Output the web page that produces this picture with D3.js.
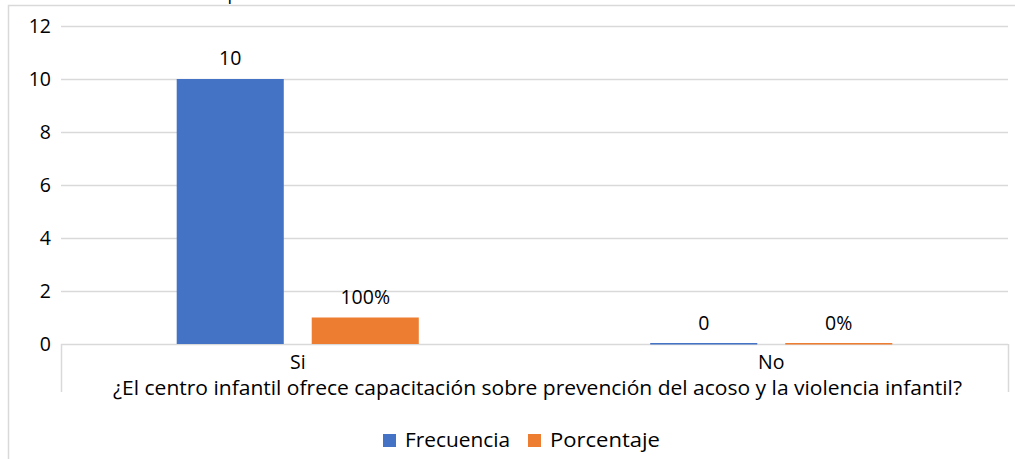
<!DOCTYPE html>
<html>
<head>
<meta charset="utf-8">
<script src="https://cdn.jsdelivr.net/npm/d3@7"></script>
<style>
  body { margin: 0; background: #fff; }
  svg text { font-family: "Open Sans", "Noto Sans", sans-serif; fill: #000; }
</style>
</head>
<body>
<div class="chart"></div>
<script>
// data
var categories = ['Si', 'No'];
var seriesNames = ['Frecuencia', 'Porcentaje'];
var frecuencia = [10, 0];
var porcentaje = [1, 0];          // plotted height (100% -> 1)
var porcentajeLabels = ['100%', '0%'];
var yTicks = [0, 2, 4, 6, 8, 10, 12];
var axisTitle = '¿El centro infantil ofrece capacitación sobre prevención del acoso y la violencia infantil?';
var colors = ['#4472C4', '#ED7D31'];

var w = 1015, h = 459;
var mLeft = 61, mRight = 1008, mTop = 26, mBottom = 344;
var fs = 19.5;

var svg = d3.select('.chart').append('svg')
    .attr('width', w)
    .attr('height', h);

// outer frame (chart area border)
svg.append('path')
    .attr('d', 'M8.5,' + h + 'V5.5H' + w)
    .attr('fill', 'none')
    .attr('stroke', '#d9d9d9')
    .attr('stroke-width', 1.5);

// cut-off title fragment
svg.append('text').attr('x', 233).attr('y', 0)
    .attr('text-anchor', 'middle').attr('font-size', 18).text('p');

var x0 = d3.scaleBand().domain(categories).range([mLeft, mRight]).paddingInner(0).paddingOuter(0);
var x1 = d3.scaleBand().domain(seriesNames).range([0, x0.bandwidth()]).paddingInner(0.207).paddingOuter(0.857);
var y = d3.scaleLinear().domain([0, 12]).range([mBottom, mTop]);

// gridlines
svg.append('g').selectAll('line')
    .data(yTicks).enter().append('line')
    .attr('x1', mLeft).attr('x2', mRight)
    .attr('y1', function(d) { return Math.round(y(d)) + 0.5; })
    .attr('y2', function(d) { return Math.round(y(d)) + 0.5; })
    .attr('stroke', '#d9d9d9')
    .attr('stroke-width', 1.5);

// y labels
svg.append('g').selectAll('text')
    .data(yTicks).enter().append('text')
    .attr('x', 51)
    .attr('y', function(d) { return y(d) + 7; })
    .attr('text-anchor', 'end')
    .attr('font-size', fs)
    .text(function(d) { return d; });

// category axis separators
svg.append('g').selectAll('line')
    .data([mLeft, mRight]).enter().append('line')
    .attr('x1', function(d) { return d + 0.5; })
    .attr('x2', function(d) { return d + 0.5; })
    .attr('y1', mBottom).attr('y2', 392)
    .attr('stroke', '#d9d9d9')
    .attr('stroke-width', 1.5);

var series = [frecuencia, porcentaje];
var labels = [frecuencia.map(String), porcentajeLabels];

series.forEach(function(vals, s) {
    var g = svg.append('g');
    g.selectAll('rect')
        .data(vals).enter().append('rect')
        .attr('x', function(d, i) { return x0(categories[i]) + x1(seriesNames[s]); })
        .attr('width', x1.bandwidth())
        .attr('y', function(d) { return y(d) - (d === 0 ? 1 : 0); })
        .attr('height', function(d) { return d === 0 ? 1.5 : y(0) - y(d); })
        .attr('fill', colors[s]);
    g.selectAll('text')
        .data(vals).enter().append('text')
        .attr('x', function(d, i) { return x0(categories[i]) + x1(seriesNames[s]) + x1.bandwidth() / 2; })
        .attr('y', function(d) { return y(d) - 14; })
        .attr('text-anchor', 'middle')
        .attr('font-size', fs)
        .text(function(d, i) { return labels[s][i]; });
});

// category labels
svg.append('g').selectAll('text')
    .data(categories).enter().append('text')
    .attr('x', function(d) { return x0(d) + x0.bandwidth() / 2; })
    .attr('y', 369)
    .attr('text-anchor', 'middle')
    .attr('font-size', fs)
    .text(function(d) { return d; });

svg.append('text')
    .attr('x', (mLeft + mRight) / 2 + 3)
    .attr('y', 395)
    .attr('text-anchor', 'middle')
    .attr('font-size', fs)
    .attr('textLength', 849)
    .attr('lengthAdjust', 'spacingAndGlyphs')
    .text(axisTitle);

// legend
var legend = svg.append('g');
var lx = [383, 528];
seriesNames.forEach(function(name, i) {
    legend.append('rect')
        .attr('x', lx[i]).attr('y', 434)
        .attr('width', 13).attr('height', 13)
        .attr('fill', colors[i]);
    legend.append('text')
        .attr('x', lx[i] + 22).attr('y', 447)
        .attr('font-size', fs)
        .attr('textLength', i === 0 ? 105 : 110)
        .attr('lengthAdjust', 'spacingAndGlyphs')
        .text(name);
});
</script>
</body>
</html>
